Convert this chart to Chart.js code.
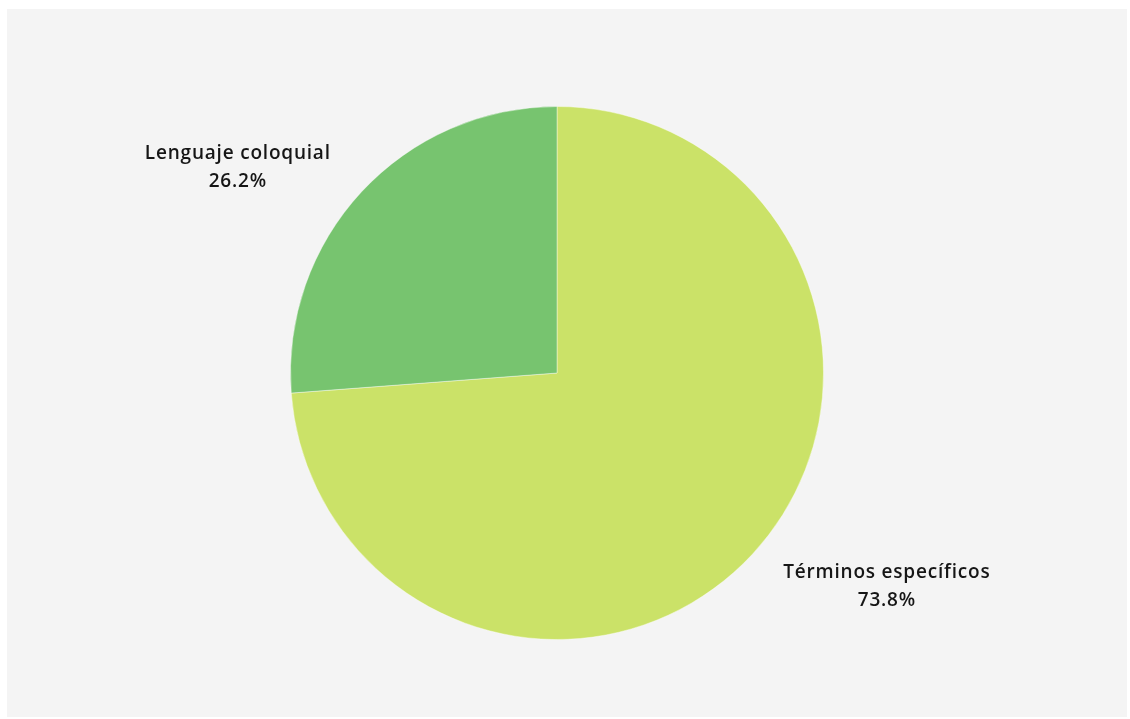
<!DOCTYPE html>
<html>
<head>
<meta charset="utf-8">
<script src="https://cdn.jsdelivr.net/npm/chart.js@4"></script>
<style>
  html, body { margin: 0; padding: 0; background: #ffffff; }
  #panel { position: absolute; left: 7px; top: 9px; width: 1120px; height: 708px; background: #f4f4f4; }
</style>
</head>
<body>
<div id="panel"><canvas id="myChart" width="1120" height="708"></canvas></div>
<script>
var categories = ["Términos específicos", "Lenguaje coloquial"];
var values = [73.8, 26.2];
var colors = ['#cbe268', '#77c46f'];

// draws "name / pct%" outside each slice
var outsideLabels = {
    id: 'outsideLabels',
    afterDatasetsDraw: function (chart) {
        var ctx = chart.ctx;
        var meta = chart.getDatasetMeta(0);
        ctx.save();
        ctx.font = '600 19px "Open Sans", sans-serif';
        ctx.letterSpacing = '0.8px';
        ctx.fillStyle = '#161616';
        ctx.textBaseline = 'middle';
        meta.data.forEach(function (arc, i) {
            var mid = (arc.startAngle + arc.endAngle) / 2;
            var r = arc.outerRadius + 42;
            var x = arc.x + Math.cos(mid) * r;
            var y = arc.y + Math.sin(mid) * r;
            var name = categories[i];
            var pct = values[i].toFixed(1) + '%';
            var w = ctx.measureText(name).width;
            var cx = Math.cos(mid) >= 0 ? x + w / 2 : x - w / 2;
            ctx.textAlign = 'center';
            ctx.fillText(name, cx, y - 10);
            ctx.fillText(pct, cx, y + 18);
        });
        ctx.restore();
    }
};

var ctx = document.getElementById('myChart').getContext('2d');
var myChart = new Chart(ctx, {
    type: 'pie',
    data: {
        labels: categories,
        datasets: [{
            data: values,
            backgroundColor: colors,
            borderColor: 'rgba(255,255,255,0.4)',
            borderWidth: 1
        }]
    },
    options: {
        responsive: false,
        animation: false,
        layout: { padding: { top: 97, bottom: 77, left: 100, right: 120 } },
        plugins: {
            legend: { display: false },
            tooltip: { enabled: false }
        }
    },
    plugins: [outsideLabels]
});
</script>
</body>
</html>
